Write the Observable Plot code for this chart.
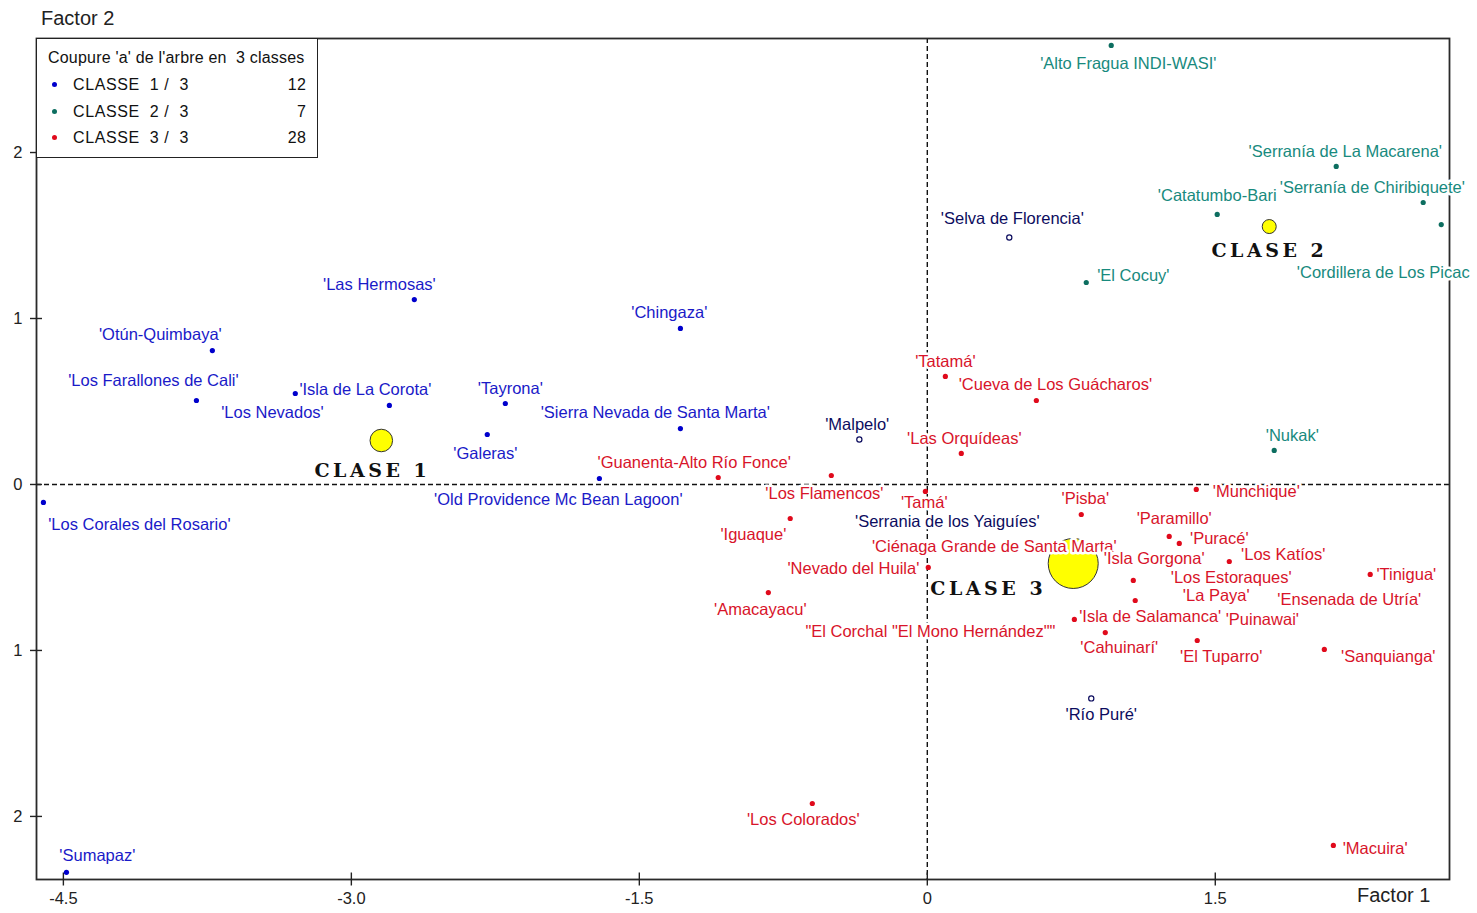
<!DOCTYPE html>
<html>
<head>
<meta charset="utf-8">
<script src="https://cdn.jsdelivr.net/npm/d3@7"></script>
<script src="https://cdn.jsdelivr.net/npm/@observablehq/plot@0.6"></script>
<style>
  html, body { margin: 0; padding: 0; background: #fff; }
  #wrap { position: relative; width: 1477px; height: 913px; overflow: hidden; font-family: "Liberation Sans", Arial, sans-serif; }
  #chart { position: absolute; left: 0; top: 0; }
  .axtitle { position: absolute; font-size: 20px; line-height: 20px; color: #222; white-space: pre; }
  #legend { position: absolute; left: 36px; top: 38px; width: 282px; height: 120px; box-sizing: border-box;
            border: 1.6px solid #222; background: #fff; font-size: 16px; color: #111; letter-spacing: 0.2px; }
  #legend .lt, #legend .row { position: absolute; left: 11px; right: 11px; height: 20px; line-height: 20px; white-space: pre; }
  #legend .dot { position: absolute; left: 4px; top: 7px; width: 5px; height: 5px; border-radius: 50%; }
  #legend .lab { position: absolute; left: 25px; letter-spacing: 0.6px; }
  #legend .cnt { position: absolute; right: 0; }
  g[font-family*="DejaVu"] text { letter-spacing: 3.5px; }
</style>
</head>
<body>
<div id="wrap">
  <div id="chart"></div>
  <div id="legend"></div>
  <div class="axtitle" style="left:41px; top:8px;">Factor 2</div>
  <div class="axtitle" style="left:1357px; top:885px;">Factor 1</div>
</div>
<script>
// ---------- Data ----------
const xTicks = [-4.5, -3.0, -1.5, 0, 1.5];
const yTicks = [-2, -1, 0, 1, 2];

// Classe 1 (12)
const class1Names = ["'Las Hermosas'", "'Otún-Quimbaya'", "'Los Farallones de Cali'", "'Isla de La Corota'", "'Los Nevados'", "'Tayrona'", "'Galeras'", "'Sierra Nevada de Santa Marta'", "'Chingaza'", "'Old Providence Mc Bean Lagoon'", "'Los Corales del Rosario'", "'Sumapaz'"];
const class1X = [-2.672, -3.724, -3.807, -2.802, -3.292, -2.198, -2.292, -1.286, -1.286, -1.708, -4.604, -4.484];
const class1Y = [1.114, 0.807, 0.506, 0.476, 0.548, 0.488, 0.301, 0.337, 0.940, 0.036, -0.108, -2.337];
const class1LabelX = [-2.854, -3.995, -4.031, -2.927, -3.411, -2.172, -2.302, -1.417, -1.344, -1.922, -4.104, -4.323];
const class1LabelY = [1.205, 0.904, 0.627, 0.572, 0.434, 0.578, 0.187, 0.434, 1.036, -0.090, -0.241, -2.235];

// Classe 2 (7)
const class2Names = ["'Alto Fragua INDI-WASI'", "'Serranía de La Macarena'", "'Serranía de Chiribiquete'", "'Cordillera de Los Picac", "'Catatumbo-Bari", "'El Cocuy'", "'Nukak'"];
const class2X = [0.958, 2.130, 2.583, 2.677, 1.510, 0.828, 1.807];
const class2Y = [2.645, 1.916, 1.699, 1.566, 1.627, 1.217, 0.205];
const class2LabelX = [1.047, 2.177, 2.318, 2.375, 1.510, 1.073, 1.901];
const class2LabelY = [2.536, 2.006, 1.789, 1.277, 1.741, 1.259, 0.295];

// Classe 3 (28)
const class3Names = ["'Tatamá'", "'Cueva de Los Guácharos'", "'Las Orquídeas'", "'Guanenta-Alto Río Fonce'", "'Los Flamencos'", "'Tamá'", "'Iguaque'", "'Ciénaga Grande de Santa Marta'", "'Nevado del Huila'", "'Amacayacu'", "\"El Corchal \"El Mono Hernández\"\"", "'Pisba'", "'Munchique'", "'Paramillo'", "'Puracé'", "'Los Katíos'", "'Isla Gorgona'", "'Los Estoraques'", "'La Paya'", "'Tinigua'", "'Ensenada de Utría'", "'Puinawai'", "'Isla de Salamanca'", "'Cahuinarí'", "'El Tuparro'", "'Sanquianga'", "'Los Colorados'", "'Macuira'"];
const class3X = [0.094, 0.568, 0.177, -1.089, -0.500, -0.010, -0.714, 0.693, 0.005, -0.828, 0.797, 0.802, 1.401, 1.260, 1.3125, 1.573, 1.073, 1.583, 1.083, 2.307, 2.151, 1.700, 0.766, 0.927, 1.406, 2.068, -0.599, 2.115];
const class3Y = [0.651, 0.506, 0.187, 0.042, 0.054, -0.042, -0.205, -0.488, -0.500, -0.651, -0.566, -0.181, -0.030, -0.313, -0.355, -0.464, -0.578, -0.566, -0.699, -0.542, -0.687, -0.813, -0.813, -0.892, -0.940, -0.994, -1.922, -2.175];
const class3LabelX = [0.094, 0.667, 0.193, -1.214, -0.536, -0.016, -0.906, 0.349, -0.385, -0.870, 0.016, 0.823, 1.714, 1.286, 1.521, 1.854, 1.182, 1.583, 1.505, 2.495, 2.198, 1.745, 1.161, 1.000, 1.531, 2.401, -0.646, 2.333];
const class3LabelY = [0.741, 0.602, 0.277, 0.133, -0.054, -0.108, -0.301, -0.373, -0.506, -0.753, -0.886, -0.084, -0.042, -0.205, -0.325, -0.422, -0.446, -0.560, -0.669, -0.542, -0.693, -0.813, -0.795, -0.982, -1.036, -1.036, -2.018, -2.193];

// Supplementary (illustrative) individuals
const supNames = ["'Selva de Florencia'", "'Malpelo'", "'Serrania de los Yaiguíes'", "'Río Puré'"];
const supX = [0.427, -0.354, 0.060, 0.854];
const supY = [1.488, 0.271, -0.223, -1.289];
const supLabelX = [0.443, -0.365, 0.104, 0.906];
const supLabelY = [1.602, 0.361, -0.223, -1.386];

// Class centroids
const centroidNames = ["CLASE 1", "CLASE 2", "CLASE 3"];
const classCounts = [12, 7, 28];
const centroidX = [-2.844, 1.781, 0.760];
const centroidY = [0.265, 1.554, -0.476];
const centroidLabelX = [-2.901, 1.771, 0.307];
const centroidLabelY = [0.084, 1.410, -0.627];

// Legend
const legendTitle = "Coupure 'a' de l'arbre en  3 classes";
const legendLabels = ["CLASSE  1 /  3", "CLASSE  2 /  3", "CLASSE  3 /  3"];

// ---------- Styles ----------
const textColor = {c1: "#1a1ac8", c2: "#188a7e", c3: "#d8142a", sup: "#0c0c5e"};
const dotColor = {c1: "#0000cc", c2: "#0d6e60", c3: "#e00a1c"};
const legendDot = [dotColor.c1, dotColor.c2, dotColor.c3];

function rows(names, xs, ys, lxs, lys, cls) {
  return names.map((name, i) => ({name, x: xs[i], y: ys[i], lx: lxs[i], ly: lys[i], cls}));
}
const c1 = rows(class1Names, class1X, class1Y, class1LabelX, class1LabelY, "c1");
const c2 = rows(class2Names, class2X, class2Y, class2LabelX, class2LabelY, "c2");
const c3 = rows(class3Names, class3X, class3Y, class3LabelX, class3LabelY, "c3");
const sup = rows(supNames, supX, supY, supLabelX, supLabelY, "sup");
const active = [...c1, ...c2, ...c3];
const centroids = centroidNames.map((name, i) => ({name, n: classCounts[i], x: centroidX[i], y: centroidY[i], lx: centroidLabelX[i], ly: centroidLabelY[i]}));

const fmtX = d => d === 0 ? "0" : d.toFixed(1);
const labelOpts = (cls) => ({x: "lx", y: "ly", text: "name", fill: textColor[cls], stroke: "white", strokeWidth: 5,
  fontSize: 16.5, textAnchor: "middle", lineAnchor: "middle"});

const chart = Plot.plot({
  width: 1477, height: 913,
  marginLeft: 36, marginRight: 28, marginTop: 38, marginBottom: 34,
  x: {domain: [-4.64, 2.72]},
  y: {domain: [-2.38, 2.687]},
  r: {type: "linear", domain: [7, 28], range: [7, 25]},
  style: {fontFamily: "'Liberation Sans', Arial, sans-serif", background: "white", color: "#222"},
  marks: [
    Plot.ruleX([0], {stroke: "#111", strokeWidth: 1.4, strokeDasharray: "5,3"}),
    Plot.ruleY([0], {stroke: "#111", strokeWidth: 1.4, strokeDasharray: "5,3"}),
    Plot.frame({stroke: "#2a2a2a", strokeWidth: 1.8}),
    Plot.axisX(xTicks, {anchor: "bottom", tickSize: 13, dy: -6.5, tickFormat: () => "", label: null, stroke: "#222", strokeWidth: 1.4}),
    Plot.axisX(xTicks, {anchor: "bottom", tickSize: 0, tickPadding: 13, tickFormat: fmtX, label: null, fontSize: 16.5, fill: "#222"}),
    Plot.axisY(yTicks, {anchor: "left", tickSize: 12, dx: 6, tickFormat: () => "", label: null, stroke: "#222", strokeWidth: 1.4}),
    Plot.axisY(yTicks, {anchor: "left", tickSize: 0, tickPadding: 14, tickFormat: d => String(Math.abs(d)), label: null, fontSize: 16.5, fill: "#222"}),
    Plot.dot(active, {x: "x", y: "y", r: 2.6, fill: d => dotColor[d.cls]}),
    Plot.dot(sup, {x: "x", y: "y", r: 2.6, fill: "white", stroke: textColor.sup, strokeWidth: 1.2}),
    Plot.dot(centroids, {x: "x", y: "y", r: "n", fill: "#ffff00", stroke: "#333", strokeWidth: 1}),
    Plot.text(c3, labelOpts("c3")),
    Plot.text(sup, labelOpts("sup")),
    Plot.text(c1, labelOpts("c1")),
    Plot.text(c2, labelOpts("c2")),
    Plot.text(centroids, {x: "lx", y: "ly", text: "name", dx: 2, fontFamily: "'DejaVu Serif', serif", fontWeight: "bold",
      fontSize: 19, fill: "#111", textAnchor: "middle", lineAnchor: "middle"})
  ]
});
document.getElementById("chart").appendChild(chart);

// HTML legend box
const legend = document.getElementById("legend");
legend.innerHTML = `<div class="lt" style="top:9px">${legendTitle}</div>` +
  legendLabels.map((l, i) => `<div class="row" style="top:${36 + i * 26.5}px"><span class="dot" style="background:${legendDot[i]}"></span><span class="lab">${l}</span><span class="cnt">${classCounts[i]}</span></div>`).join("");
</script>
</body>
</html>
